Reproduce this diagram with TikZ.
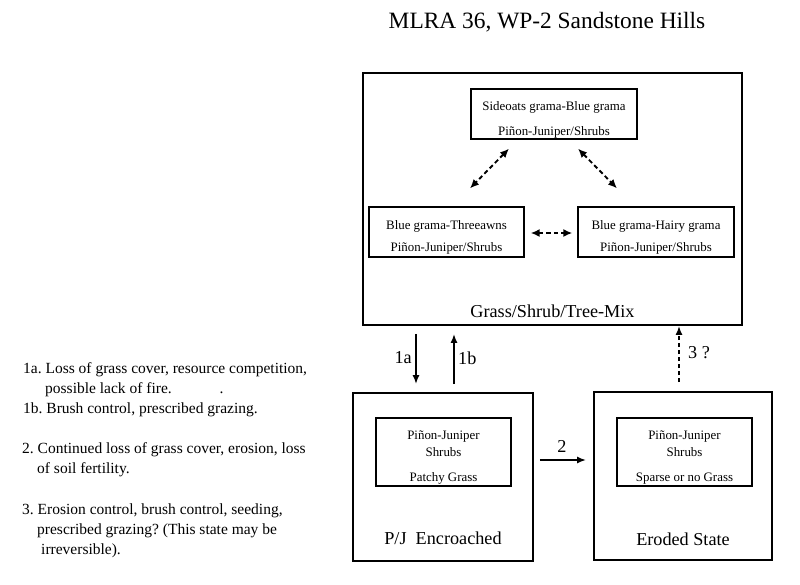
\documentclass[tikz,border=0pt]{standalone}
\usepackage{fontspec}
\setmainfont{Liberation Serif}
\usetikzlibrary{arrows.meta}
\frenchspacing
\newcommand\topstrut{\rule{0pt}{20pt}}
\begin{document}
\begin{tikzpicture}[x=1pt,y=-1pt,
  bigbox/.style={draw, line width=1.8pt, inner sep=0pt},
  smallbox/.style={draw, line width=1.3pt, inner sep=0pt, align=center},
  arr/.style={line width=1.7pt, -{Latex[length=9pt,width=7pt]}},
  darr/.style={line width=1.9pt, dashed, dash pattern=on 4.5pt off 3pt, {Latex[length=9pt,width=8pt]}-{Latex[length=9pt,width=8pt]}},
  lefttxt/.style={anchor=base west, inner sep=0pt, font=\fontsize{15.5}{18}\selectfont},
  lbl/.style={inner sep=0pt, font=\fontsize{18.2}{20}\selectfont}
]
\useasboundingbox[fill=white] (0,0) rectangle (800,584);

\node[inner sep=0pt, font=\fontsize{23.4}{26}\selectfont] (title) at (547,22) {MLRA 36, WP-2 Sandstone Hills};

% top state
\node[bigbox, minimum width=379pt, minimum height=252pt] (top) at (552.5,199) {};
\node[lbl] (toplbl) at ([yshift=15pt]top.south) {Grass/Shrub/Tree-Mix};
\node[smallbox, minimum width=166pt, minimum height=50pt, font=\fontsize{12.9}{25}\selectfont] (side) at (554,114) {\topstrut Sideoats grama-Blue grama\\Piñon-Juniper/Shrubs};
\node[smallbox, minimum width=155pt, minimum height=50pt, font=\fontsize{12.9}{22}\selectfont] (three) at (446.5,232) {\topstrut Blue grama-Threeawns\\Piñon-Juniper/Shrubs};
\node[smallbox, minimum width=156pt, minimum height=50pt, font=\fontsize{12.9}{22}\selectfont] (hairy) at (656,232) {\topstrut Blue grama-Hairy grama\\Piñon-Juniper/Shrubs};

\draw[darr] ([xshift=-45pt,yshift=-9pt]side.south) -- ([xshift=23.5pt,yshift=18pt]three.north);
\draw[darr] ([xshift=24pt,yshift=-9pt]side.south) -- ([xshift=-39pt,yshift=18pt]hairy.north);
\draw[darr] ([xshift=6pt,yshift=-1pt]three.east) -- ([xshift=-5pt,yshift=-1pt]hairy.west);

% P/J encroached
\node[bigbox, minimum width=180pt, minimum height=168pt] (pj) at (443,477) {};
\node[smallbox, minimum width=135pt, minimum height=68pt, font=\fontsize{12.9}{17}\selectfont] (pjin) at (443.5,452) {\topstrut Piñon-Juniper\\Shrubs\\[8pt]Patchy Grass};
\node[lbl] (pjlbl) at ([yshift=24pt]pj.south) {P/J\ \ Encroached};

% eroded
\node[bigbox, minimum width=178pt, minimum height=168pt] (er) at (683,476) {};
\node[smallbox, minimum width=135pt, minimum height=68pt, font=\fontsize{12.9}{17}\selectfont] (erin) at (684.5,452) {\topstrut Piñon-Juniper\\Shrubs\\[8pt]Sparse or no Grass};
\node[lbl] (erlbl) at ([yshift=22pt]er.south) {Eroded State};

% transitions
\draw[arr] ([xshift=-136.5pt,yshift=-8pt]top.south) -- ([xshift=-27pt,yshift=8pt]pj.north);
\draw[arr] ([xshift=11pt,yshift=8pt]pj.north) -- ([xshift=-98.5pt,yshift=-8pt]top.south);
\draw[arr, dashed, dash pattern=on 4pt off 3pt] ([xshift=-4pt,yshift=9pt]er.north) -- ([xshift=126.5pt]top.south);
\draw[arr] ([xshift=6pt,yshift=17pt]pj.east) -- ([xshift=-7pt,yshift=16pt]er.west);

\node[lbl, anchor=east] (l1a) at (412,358) {1a};
\node[lbl, anchor=west] (l1b) at (458,358) {1b};
\node[lbl, anchor=west] (l3) at (688,353) {3 ?};
\node[lbl] (l2) at (562,446) {2};

% notes
\node[lefttxt] (n1) at (23,373) {1a. Loss of grass cover, resource competition,};
\node[lefttxt] (n2) at (45,393) {possible lack of fire.\hspace{48pt}.};
\node[lefttxt] (n3) at (23,413) {1b. Brush control, prescribed grazing.};
\node[lefttxt] (n4) at (22,453) {2. Continued loss of grass cover, erosion, loss};
\node[lefttxt] (n5) at (37,473) {of soil fertility.};
\node[lefttxt] (n6) at (22,514) {3. Erosion control, brush control, seeding,};
\node[lefttxt] (n7) at (37,534) {prescribed grazing? (This state may be};
\node[lefttxt] (n8) at (41,554) {irreversible).};
\end{tikzpicture}
\end{document}
